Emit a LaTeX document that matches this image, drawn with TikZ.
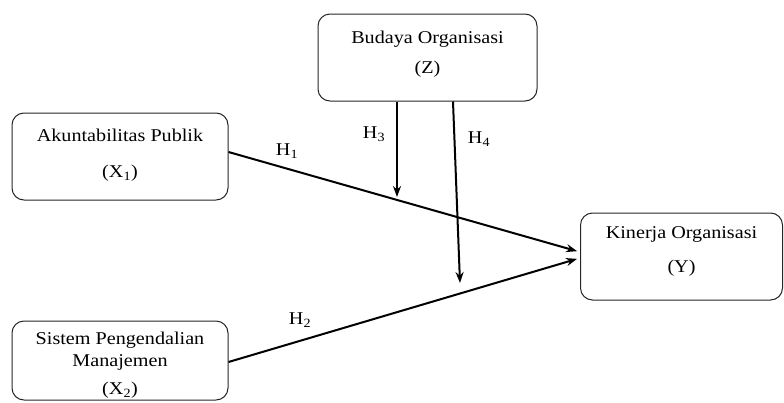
\documentclass[tikz,border=0pt]{standalone}
\usepackage{fontspec}
\setmainfont{Liberation Serif}[FakeStretch=1.12]
\usetikzlibrary{arrows.meta}
\tikzset{
  box/.style={draw=black!85, line width=1pt, rounded corners=12pt, inner sep=0pt},
  txt/.style={align=center, font=\fontsize{18}{22}\selectfont, inner sep=0pt},
  hlabel/.style={font=\fontsize{18}{22}\selectfont, inner sep=0pt},
  link/.style={line width=2pt, -{Stealth[length=11pt,width=8pt]}}
}
\begin{document}
\begin{tikzpicture}[x=1pt,y=-1pt]
\useasboundingbox (0,0) rectangle (784,402);
\node[box, minimum width=219pt, minimum height=87pt] (Z) at (427.5,57.5) {};
\node[box, minimum width=216pt, minimum height=87pt] (X1) at (120,156.5) {};
\node[box, minimum width=216pt, minimum height=79pt] (X2) at (120,360.5) {};
\node[box, minimum width=202pt, minimum height=87pt] (Y) at (681.5,256.5) {};
\node[txt] (tZ) at ([yshift=3pt]Z.center) {Budaya Organisasi\\[8pt](Z)};
\node[txt] (tX1) at ([yshift=1pt]X1.center) {Akuntabilitas Publik\\[14pt](X\textsubscript{1})};
\node[txt] (tX2) at ([yshift=-5pt]X2.center) {Sistem Pengendalian\\[0pt]Manajemen\\[6pt](X\textsubscript{2})};
\node[txt] (tY) at ([yshift=5pt]Y.center) {Kinerja Organisasi\\[12pt](Y)};
\coordinate (h3end) at (397,197);
\coordinate (h4end) at (460,283);
\draw[link, shorten >=3pt] ([yshift=4.5pt]X1.east) -- ([yshift=4.5pt]Y.west);
\draw[link, shorten >=3pt] ([yshift=-1.5pt]X2.east) -- ([yshift=-1.5pt]Y.west);
\draw[link] ([xshift=-30.5pt]Z.south) -- (h3end);
\draw[link] ([xshift=25.5pt]Z.south) -- (h4end);
\node[hlabel] (H1) at (287,151) {H\textsubscript{1}};
\node[hlabel] (H2) at (300,320) {H\textsubscript{2}};
\node[hlabel] (H3) at (374,134) {H\textsubscript{3}};
\node[hlabel] (H4) at (479,139) {H\textsubscript{4}};
\end{tikzpicture}
\end{document}
